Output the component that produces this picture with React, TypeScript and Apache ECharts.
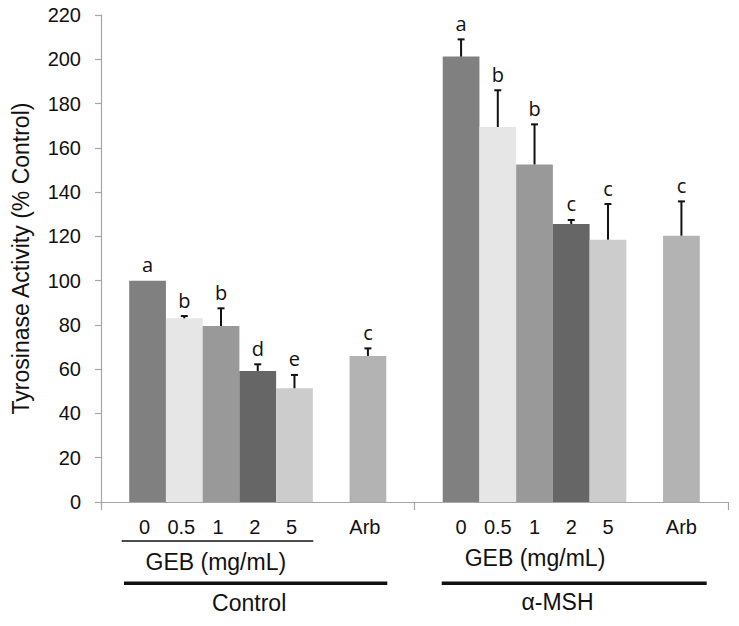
import React, { useEffect, useRef } from "react";
import * as echarts from "echarts";

const groups = ["Control", "α-MSH"];
const subCategories = ["0", "0.5", "1", "2", "5", "Arb"];
const slotIndex = [0, 1, 2, 3, 4, 6];
const controlValues = [100, 83.0, 79.5, 59.2, 51.4, 66.0];
const controlErrors = [0, 1.0, 8.0, 3.0, 6.0, 3.4];
const controlLetters = ["a", "b", "b", "d", "e", "c"];
const mshValues = [201.2, 169.4, 152.5, 125.6, 118.5, 120.3];
const mshErrors = [7.8, 16.6, 18.1, 1.8, 16.1, 15.5];
const mshLetters = ["a", "b", "b", "c", "c", "c"];
const barColors = ["#808080", "#e6e6e6", "#999999", "#666666", "#cccccc", "#b3b3b3"];
const yTicks = { min: 0, max: 220, interval: 20 };

const SLOTS = 7;
const CAT_GAP = 0.18;
const FONT = 'Arial, "Liberation Sans", sans-serif';

export default function App() {
  const ref = useRef<HTMLDivElement>(null);

  useEffect(() => {
    if (!ref.current) return;
    const chart = echarts.init(ref.current, null, { renderer: "svg" });

    const values = [controlValues, mshValues];
    const errors = [controlErrors, mshErrors];
    const letters = [controlLetters, mshLetters];

    const barSeries: any[] = [];
    for (let s = 0; s < SLOTS; s++) {
      const k = slotIndex.indexOf(s);
      barSeries.push({
        type: "bar",
        name: k >= 0 ? subCategories[k] : "",
        barGap: "0%",
        barCategoryGap: (CAT_GAP * 100) + "%",
        itemStyle: { color: k >= 0 ? barColors[k] : "transparent" },
        data: k >= 0 ? [values[0][k], values[1][k]] : [null, null],
        silent: true,
      });
    }

    const customItems: any[] = [];
    const meta: any[] = [];
    for (let g = 0; g < 2; g++) {
      for (let k = 0; k < subCategories.length; k++) {
        customItems.push([g, values[g][k] + errors[g][k]]);
        meta.push({ g, k });
      }
    }

    const customSeries = {
      type: "custom",
      silent: true,
      clip: false,
      z: 5,
      data: customItems,
      renderItem: (params: any, api: any) => {
        const { g, k } = meta[params.dataIndex];
        const v = values[g][k];
        const e = errors[g][k];
        const band = api.size([1, 0])[0];
        const base = api.coord([g, 0]);
        const barW = (band * (1 - CAT_GAP)) / SLOTS;
        const cx = base[0] - (band * (1 - CAT_GAP)) / 2 + (slotIndex[k] + 0.5) * barW;
        const barTop = api.coord([g, v])[1];
        const errTop = api.coord([g, v + e])[1];
        const children: any[] = [];
        if (e > 0) {
          children.push({
            type: "line",
            shape: { x1: cx, y1: barTop, x2: cx, y2: errTop },
            style: { stroke: "#111", lineWidth: 2 },
          });
          children.push({
            type: "line",
            shape: { x1: cx - 3.5, y1: errTop, x2: cx + 3.5, y2: errTop },
            style: { stroke: "#111", lineWidth: 2 },
          });
        }
        children.push({
          type: "text",
          x: cx,
          y: errTop - 6,
          style: {
            text: letters[g][k],
            fontSize: 20,
            fontFamily: '"Open Sans", sans-serif',
            fill: "#111",
            align: "center",
            verticalAlign: "bottom",
          },
        });
        children.push({
          type: "text",
          x: cx - (g === 0 ? 3 : 0),
          y: base[1] + 25,
          style: {
            text: subCategories[k],
            fontSize: 20,
            fontFamily: FONT,
            fill: "#111",
            align: "center",
            verticalAlign: "middle",
          },
        });
        return { type: "group", children };
      },
    };

    const textStyle = (text: string, x: number, y: number) => ({
      type: "text",
      x,
      y,
      style: {
        text,
        fontSize: 23,
        fontFamily: FONT,
        fill: "#111",
        align: "center",
        verticalAlign: "middle",
      },
      silent: true,
    });

    chart.setOption({
      animation: false,
      grid: { left: 101, right: 11, top: 15, bottom: 124, containLabel: false, outerBoundsMode: "none" },
      xAxis: {
        type: "category",
        data: groups,
        axisLine: { lineStyle: { color: "#a6a6a6", width: 1.2 } },
        axisTick: { show: true, length: 8, lineStyle: { color: "#a6a6a6", width: 1.2 } },
        axisLabel: { show: false },
        splitLine: { show: false },
      },
      yAxis: {
        type: "value",
        min: yTicks.min,
        max: yTicks.max,
        interval: yTicks.interval,
        name: "Tyrosinase Activity (% Control)",
        nameLocation: "middle",
        nameGap: 69,
        nameTextStyle: { fontSize: 23, fontFamily: FONT, color: "#111" },
        axisLine: { show: true, lineStyle: { color: "#a6a6a6", width: 1.2 } },
        axisTick: { show: true, length: 6, lineStyle: { color: "#a6a6a6", width: 1.2 } },
        axisLabel: { fontSize: 20, fontFamily: FONT, color: "#111", margin: 20 },
        splitLine: { show: false },
      },
      graphic: [
        {
          type: "line",
          shape: { x1: 121.7, y1: 541, x2: 313.3, y2: 541 },
          style: { stroke: "#111", lineWidth: 1.6 },
          silent: true,
        },
        textStyle("GEB (mg/mL)", 215.8, 562.3),
        {
          type: "line",
          shape: { x1: 124, y1: 583.3, x2: 387.3, y2: 583.3 },
          style: { stroke: "#111", lineWidth: 3.5 },
          silent: true,
        },
        textStyle("Control", 249.2, 603.3),
        textStyle("GEB (mg/mL)", 535, 558.3),
        {
          type: "line",
          shape: { x1: 441.7, y1: 583.3, x2: 706.7, y2: 583.3 },
          style: { stroke: "#111", lineWidth: 3.5 },
          silent: true,
        },
        textStyle("α-MSH", 557.5, 601.7),
      ],
      series: [...barSeries, customSeries],
    });

    return () => chart.dispose();
  }, []);

  return (
    <div
      ref={ref}
      style={{ position: "fixed", left: 0, top: 0, width: 739, height: 626, background: "#fff" }}
    />
  );
}
